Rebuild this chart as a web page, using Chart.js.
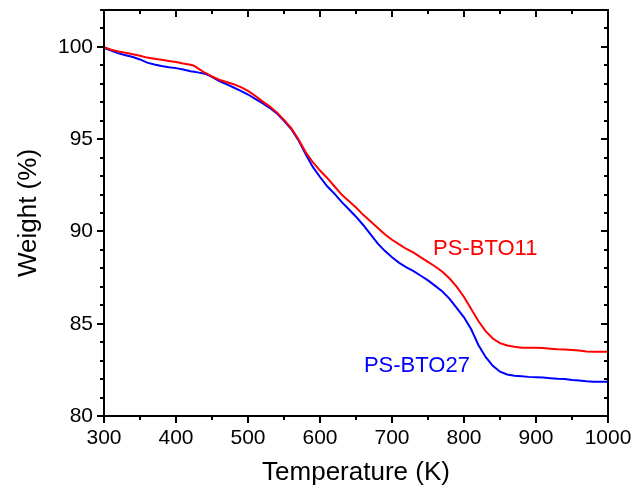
<!DOCTYPE html>
<html>
<head>
<meta charset="utf-8">
<script src="https://cdn.jsdelivr.net/npm/chart.js@4"></script>
<style>
    body { margin: 0; background: #fff; }
    canvas { display: block; }
</style>
</head>
<body>
<canvas id="tgaChart" width="639" height="498"></canvas>
<script>
// Temperature (K) sample points
const temperatures = [300, 310, 320, 330, 340, 350, 360, 370, 380, 390, 400, 410, 420, 425, 430, 440, 450, 460, 470, 480,
    490, 500, 510, 520, 530, 540, 550, 560, 570, 580, 590, 600, 610, 620, 630, 640, 650, 660, 670, 680,
    690, 700, 710, 720, 730, 740, 750, 760, 770, 780, 790, 800, 810, 820, 830, 840, 850, 860, 870, 880,
    890, 900, 910, 920, 930, 940, 950, 960, 970, 980, 990, 1000];

// Weight (%) for PS-BTO11
const weightBTO11 = [99.98, 99.85, 99.75, 99.68, 99.60, 99.52, 99.42, 99.36, 99.30, 99.24, 99.18, 99.10, 99.03, 98.98, 98.85, 98.60, 98.40, 98.22, 98.10, 97.98,
    97.82, 97.62, 97.35, 97.05, 96.78, 96.45, 96.05, 95.60, 95.00, 94.30, 93.75, 93.30, 92.90, 92.45, 92.00, 91.65, 91.30, 90.90, 90.55, 90.20,
    89.85, 89.55, 89.30, 89.05, 88.85, 88.60, 88.35, 88.10, 87.82, 87.45, 87.00, 86.45, 85.80, 85.15, 84.60, 84.20, 83.95, 83.82, 83.75, 83.70,
    83.70, 83.70, 83.68, 83.65, 83.62, 83.60, 83.58, 83.55, 83.50, 83.48, 83.48, 83.48];

// Weight (%) for PS-BTO27
const weightBTO27 = [99.95, 99.80, 99.65, 99.55, 99.45, 99.32, 99.15, 99.05, 98.97, 98.90, 98.85, 98.78, 98.68, 98.65, 98.62, 98.55, 98.38, 98.15, 97.98, 97.80,
    97.62, 97.42, 97.18, 96.95, 96.70, 96.40, 96.00, 95.55, 94.95, 94.20, 93.50, 92.95, 92.45, 92.05, 91.60, 91.20, 90.80, 90.35, 89.85, 89.35,
    88.95, 88.60, 88.30, 88.05, 87.85, 87.60, 87.35, 87.05, 86.75, 86.35, 85.85, 85.35, 84.70, 83.85, 83.20, 82.72, 82.40, 82.25, 82.18, 82.15,
    82.12, 82.10, 82.08, 82.05, 82.02, 82.00, 81.95, 81.92, 81.88, 81.85, 81.85, 81.85];

const xTicks = [300, 400, 500, 600, 700, 800, 900, 1000];
const yTicks = [80, 85, 90, 95, 100];

const fontFamily = 'Arial, "Liberation Sans", sans-serif';

// frame with Origin-style ticks (outside on bottom/left, inside on top/right)
const framePlugin = {
    id: 'frame',
    afterDraw(chart) {
        const ctx = chart.ctx;
        const area = chart.chartArea;
        const x = chart.scales.x;
        const y = chart.scales.y;
        const major = 7, minor = 4;
        ctx.save();
        ctx.strokeStyle = '#000';
        ctx.lineWidth = 2;
        ctx.strokeRect(area.left, area.top, area.right - area.left, area.bottom - area.top);
        ctx.beginPath();
        for (let v = x.min; v <= x.max; v += 50) {
            const px = Math.round(x.getPixelForValue(v));
            const len = v % 100 === 0 ? major : minor;
            ctx.moveTo(px, area.bottom);
            ctx.lineTo(px, area.bottom + len);
            ctx.moveTo(px, area.top);
            ctx.lineTo(px, area.top + len);
        }
        for (let v = y.min; v <= y.max; v += 1) {
            const py = Math.round(y.getPixelForValue(v));
            const len = v % 5 === 0 ? major : minor;
            ctx.moveTo(area.left, py);
            ctx.lineTo(area.left - len, py);
            ctx.moveTo(area.right, py);
            ctx.lineTo(area.right - len, py);
        }
        ctx.stroke();

        // series labels
        ctx.font = '22px ' + fontFamily;
        ctx.textBaseline = 'middle';
        ctx.textAlign = 'left';
        chart.options.plugins.frame.labels.forEach(lbl => {
            ctx.fillStyle = lbl.color;
            ctx.fillText(lbl.text, x.getPixelForValue(lbl.x), y.getPixelForValue(lbl.y));
        });
        ctx.restore();
    }
};

const ctx = document.getElementById('tgaChart').getContext('2d');

new Chart(ctx, {
    type: 'line',
    data: {
        datasets: [{
            label: 'PS-BTO11',
            data: temperatures.map((t, i) => ({ x: t, y: weightBTO11[i] })),
            borderColor: '#ff0000',
            borderWidth: 2,
            pointRadius: 0,
            fill: false
        }, {
            label: 'PS-BTO27',
            data: temperatures.map((t, i) => ({ x: t, y: weightBTO27[i] })),
            borderColor: '#0000ff',
            borderWidth: 2,
            pointRadius: 0,
            fill: false
        }]
    },
    options: {
        responsive: false,
        animation: false,
        layout: {
            padding: { top: 10, right: 31, left: 0, bottom: 0 }
        },
        plugins: {
            legend: { display: false },
            tooltip: { enabled: false },
            frame: {
                labels: [
                    { text: 'PS-BTO11', color: '#ff0000', x: 757, y: 89.07 },
                    { text: 'PS-BTO27', color: '#0000ff', x: 661, y: 82.73 }
                ]
            }
        },
        scales: {
            x: {
                type: 'linear',
                min: 300,
                max: 1000,
                afterFit: scale => {
                    scale.height = 82;
                    scale.paddingLeft = 0;
                    scale.paddingRight = 0;
                },
                afterBuildTicks: scale => { scale.ticks = xTicks.map(v => ({ value: v })); },
                grid: { display: false, drawTicks: false },
                border: { display: false },
                ticks: {
                    padding: 10,
                    color: '#000',
                    maxRotation: 0,
                    font: { family: fontFamily, size: 21 },
                    callback: value => String(value)
                },
                title: {
                    display: true,
                    text: 'Temperature (K)',
                    color: '#000',
                    font: { family: fontFamily, size: 26 },
                    padding: { top: 0, bottom: 10 }
                }
            },
            y: {
                min: 80,
                max: 102,
                afterFit: scale => {
                    scale.width = 104;
                    scale.paddingTop = 0;
                    scale.paddingBottom = 0;
                },
                afterBuildTicks: scale => { scale.ticks = yTicks.map(v => ({ value: v })); },
                grid: { display: false, drawTicks: false },
                border: { display: false },
                ticks: {
                    padding: 11,
                    color: '#000',
                    font: { family: fontFamily, size: 21 }
                },
                title: {
                    display: true,
                    text: 'Weight (%)',
                    color: '#000',
                    font: { family: fontFamily, size: 26 },
                    padding: { top: 13, bottom: 0 }
                }
            }
        }
    },
    plugins: [framePlugin]
});
</script>
</body>
</html>
